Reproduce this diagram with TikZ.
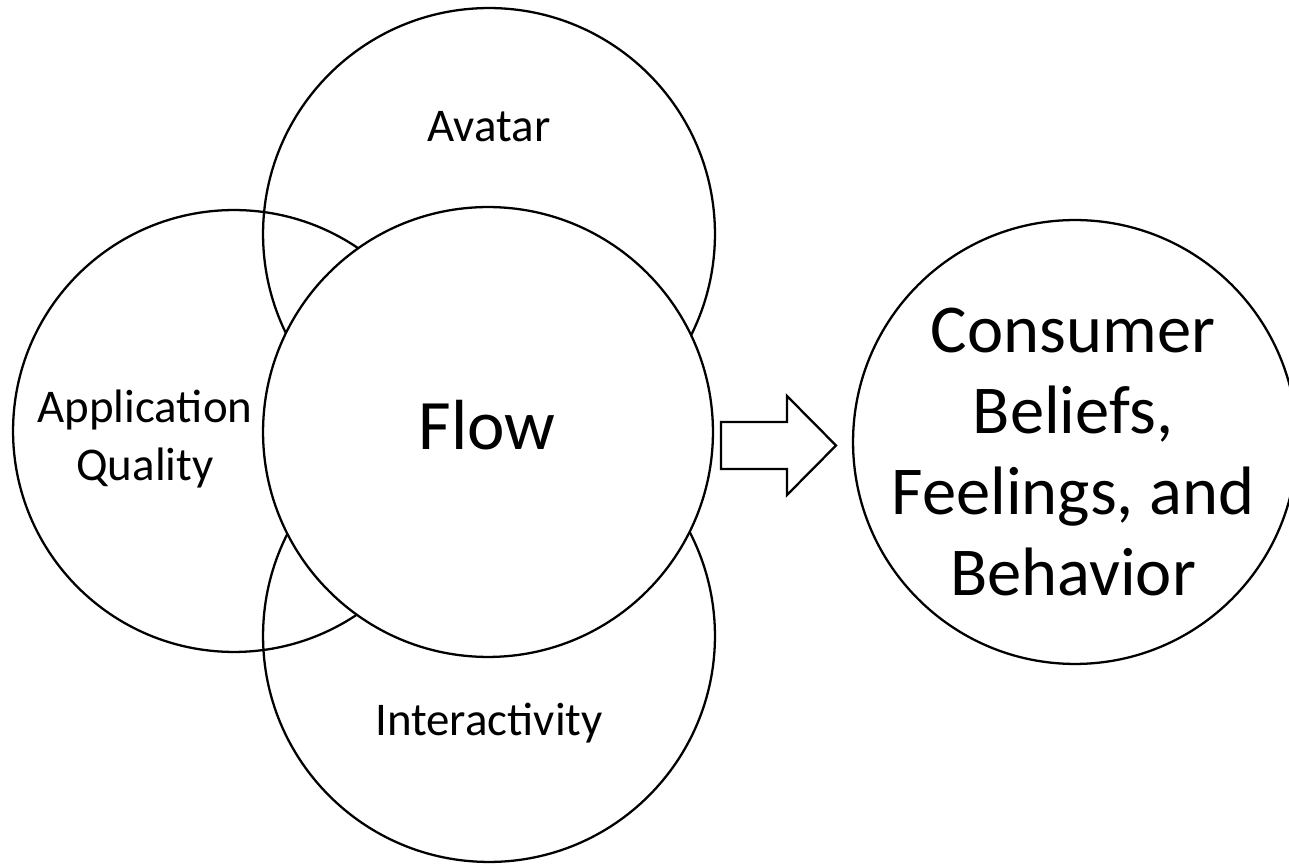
\documentclass[tikz,border=0pt]{standalone}
\usepackage{fontspec}
\setmainfont{Carlito}
\usetikzlibrary{positioning}

\begin{document}
\begin{tikzpicture}
  [x=0.02cm,y=-0.02cm,
   every node/.style={draw=none,fill=none,inner sep=0pt},
   ring/.style={circle,draw,line width=1.3pt},
   small/.style={font=\fontsize{26.7}{33.5}\selectfont,align=center},
   big/.style={font=\fontsize{40.4}{46.7}\selectfont,align=center}]
  \useasboundingbox (0,0) rectangle (1289,864);
  \node[ring,minimum size=9.04cm] (av) at (489,234) {};
  \node[ring,minimum size=8.84cm] (aq) at (234,431) {};
  \node[ring,minimum size=9.04cm] (ia) at (489,636) {};
  \node[ring,fill=white,minimum size=9.0cm] (fl) at (488,432) {};
  \node[ring,minimum size=8.88cm] (cb) at (1075,442) {};
  % block arrow
  \coordinate (a0) at (721,445.5);
  \draw[line width=1.3pt] (a0) ++(0,-23.5) -- ++(66,0) -- ++(0,-26) -- ++(49,49.5)
    -- ++(-49,49.5) -- ++(0,-26) -- ++(-66,0) -- cycle;
  \node[small] (t0) at (489,127) {Avatar};
  \node[small] (t1) at (145,439) {Application\\Quality};
  \node[big] (t2) at (487,425) {Flow};
  \node[small] (t3) at (489,723) {Interactivity};
  \node[big,font=\fontsize{39}{46}\selectfont] (t4) at (1073,452) {Consumer\\Beliefs,\\Feelings, and\\Behavior};
\end{tikzpicture}
\end{document}
